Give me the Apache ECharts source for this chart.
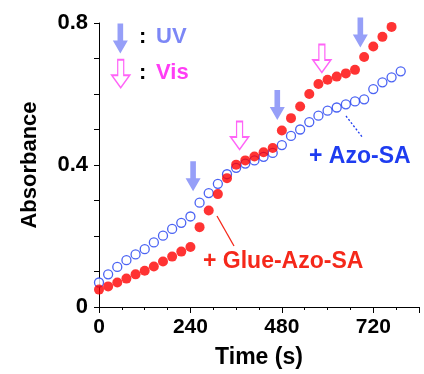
<!DOCTYPE html>
<html>
<head>
<meta charset="utf-8">
<script src="https://cdn.jsdelivr.net/npm/echarts@6/dist/echarts.min.js"></script>
<style>
  html, body { margin: 0; padding: 0; background: #fff; }
  #chart { width: 424px; height: 374px; }
</style>
</head>
<body>
<div id="chart"></div>
<script>
// time step is 24 s
var azoTime = [0, 24, 48, 72, 96, 120, 144, 168, 192, 216, 240, 264, 288, 312, 336, 360, 384,
  408, 432, 456, 480, 504, 528, 552, 576, 600, 624, 648, 672, 696, 720, 744, 768, 792]
var azoAbs = [0.069, 0.092, 0.113, 0.132, 0.148, 0.163, 0.182, 0.201, 0.220, 0.237, 0.255,
  0.294, 0.321, 0.347, 0.374, 0.392, 0.404, 0.413, 0.423, 0.434, 0.456, 0.482, 0.500, 0.521,
  0.539, 0.553, 0.562, 0.571, 0.579, 0.585, 0.614, 0.633, 0.647, 0.664]
var glueTime = azoTime.slice(0, 33)
var glueAbs = [0.049, 0.058, 0.069, 0.080, 0.092, 0.102, 0.114, 0.128, 0.142, 0.156, 0.169,
  0.225, 0.272, 0.318, 0.363, 0.401, 0.413, 0.424, 0.436, 0.448, 0.497, 0.532, 0.565, 0.600,
  0.628, 0.640, 0.649, 0.658, 0.668, 0.704, 0.734, 0.761, 0.789]

// irradiation switch markers (time, absorbance where arrow sits)
var uvArrows = [[247, 0.368], [468, 0.569], [686, 0.773], [56, 0.756]]
var visArrows = [[369, 0.483], [585, 0.700], [57, 0.657]]

var xTicks = [0, 240, 480, 720]
var yTicks = [0, 0.4, 0.8]

function zip(a, b) {
    return a.map(function (v, i) { return [v, b[i]] })
}

var uvColor = '#7c87f6'
var visColor = '#ff3df5'
var azoColor = '#1e3cf0'
var glueColor = '#ff0000'
var font = 'Liberation Sans, Arial, sans-serif'

var uvPath = 'path://M5,0 L11,0 L11,17 L16,17 L8,30 L0,17 L5,17 Z'
var visPath = 'path://M6,0 L12,0 L12,16 L18,16 L9,29 L0,16 L6,16 Z'

var myChart = echarts.init(document.getElementById('chart'))
myChart.setOption({
    animation: false,
    grid: {left: 99, right: 5, top: 23, bottom: 66},
    xAxis: {
        type: 'value',
        min: 0,
        max: 840,
        interval: 240,
        name: 'Time (s)',
        nameLocation: 'middle',
        nameGap: 39,
        nameTextStyle: {color: '#000', fontSize: 23, fontWeight: 'bold', fontFamily: font},
        axisLine: {lineStyle: {color: '#000', width: 1}},
        axisTick: {length: 6, lineStyle: {color: '#000'}},
        minorTick: {show: true, splitNumber: 4, length: 3, lineStyle: {color: '#000'}},
        splitLine: {show: false},
        axisLabel: {
            color: '#000', fontSize: 21, fontWeight: 'bold', fontFamily: font, margin: 10,
            formatter: function (v) { return xTicks.indexOf(v) >= 0 ? v : '' }
        }
    },
    yAxis: {
        type: 'value',
        min: 0,
        max: 0.8,
        interval: 0.4,
        name: 'Absorbance',
        nameLocation: 'middle',
        nameGap: 58,
        nameTextStyle: {color: '#000', fontSize: 22, fontWeight: 'bold', fontFamily: font},
        axisLine: {show: true, lineStyle: {color: '#000', width: 1}},
        axisTick: {show: true, length: 5, lineStyle: {color: '#000'}},
        minorTick: {show: true, splitNumber: 4, length: 5, lineStyle: {color: '#000'}},
        splitLine: {show: false},
        axisLabel: {
            color: '#000', fontSize: 22, fontWeight: 'bold', fontFamily: font, margin: 11,
            formatter: function (v) { return yTicks.indexOf(v) >= 0 ? String(v) : '' }
        }
    },
    series: [
        {
            name: '+ Azo-SA',
            type: 'scatter',
            symbol: 'circle',
            symbolSize: 9,
            itemStyle: {color: '#fff', borderColor: azoColor, borderWidth: 1.3},
            data: zip(azoTime, azoAbs)
        },
        {
            name: '+ Glue-Azo-SA',
            type: 'scatter',
            symbol: 'circle',
            symbolSize: 10,
            itemStyle: {color: glueColor},
            data: zip(glueTime, glueAbs)
        },
        {
            name: 'UV',
            type: 'scatter',
            symbol: uvPath,
            symbolSize: [15, 30],
            itemStyle: {color: uvColor},
            z: 5,
            data: uvArrows
        },
        {
            name: 'Vis',
            type: 'scatter',
            symbol: visPath,
            symbolSize: [18, 28],
            itemStyle: {color: '#fff', borderColor: visColor, borderWidth: 1.5},
            z: 5,
            data: visArrows
        }
    ],
    graphic: [
        {
            type: 'text', left: 139, top: 26,
            style: {
                text: '{c|:}{u|UV}',
                rich: {
                    c: {fill: '#000', fontSize: 22, fontWeight: 'bold', fontFamily: font, width: 17},
                    u: {fill: uvColor, fontSize: 22, fontWeight: 'bold', fontFamily: font}
                }
            }
        },
        {
            type: 'text', left: 139, top: 62,
            style: {
                text: '{c|:}{v|Vis}',
                rich: {
                    c: {fill: '#000', fontSize: 22, fontWeight: 'bold', fontFamily: font, width: 17},
                    v: {fill: visColor, fontSize: 22, fontWeight: 'bold', fontFamily: font}
                }
            }
        },
        {
            type: 'text', left: 309, top: 145,
            style: {text: '+ Azo-SA', fill: azoColor, fontSize: 23, fontWeight: 'bold', fontFamily: font}
        },
        {
            type: 'text', left: 203, top: 250,
            style: {text: '+ Glue-Azo-SA', fill: '#f5281a', fontSize: 23, fontWeight: 'bold', fontFamily: font}
        },
        {
            type: 'line',
            shape: {x1: 346, y1: 116, x2: 363, y2: 138},
            style: {stroke: azoColor, lineWidth: 1.3, lineDash: [2, 2]}
        },
        {
            type: 'line',
            shape: {x1: 217, y1: 216, x2: 234, y2: 246},
            style: {stroke: '#f5281a', lineWidth: 1.3}
        }
    ]
})
</script>
</body>
</html>
